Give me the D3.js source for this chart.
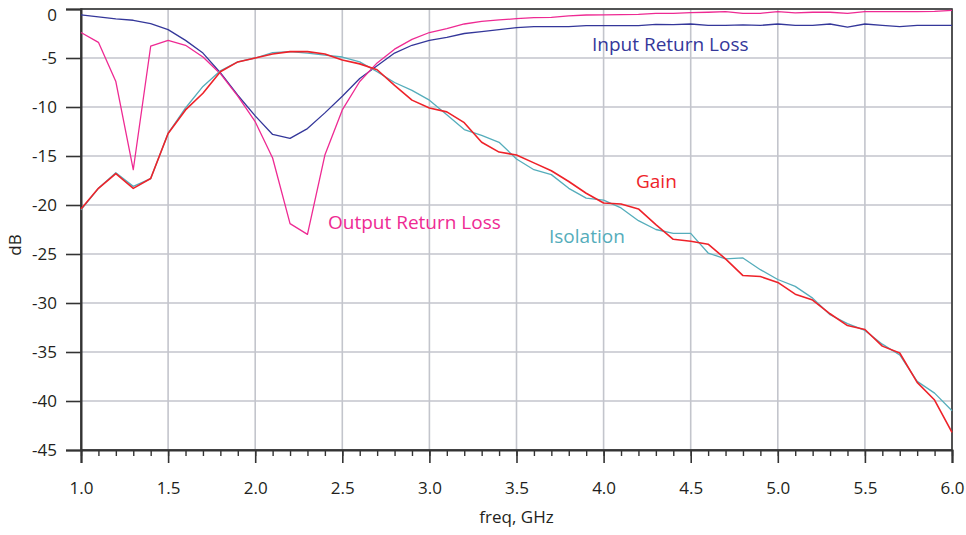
<!DOCTYPE html>
<html>
<head>
<meta charset="utf-8">
<script src="https://cdn.jsdelivr.net/npm/d3@7"></script>
<style>
  body { margin: 0; background: #fff; }
  text { font-family: "Open Sans", "Noto Sans", sans-serif; }
</style>
</head>
<body>
<div id="chart"></div>
<script>
// frequency points, GHz (0.1 GHz steps)
var freq = d3.range(10, 61).map(function(d) { return d / 10; });

var inputRL = [-0.6, -0.8, -1.0, -1.15, -1.5, -2.1, -3.2, -4.5, -6.5, -8.8,
  -10.9, -12.8, -13.2, -12.2, -10.6, -8.9, -7.1, -5.8, -4.5, -3.7,
  -3.2, -2.9, -2.5, -2.3, -2.1, -1.9, -1.8, -1.8, -1.8, -1.7,
  -1.7, -1.7, -1.7, -1.57, -1.6, -1.53, -1.67, -1.67, -1.63, -1.67,
  -1.53, -1.67, -1.67, -1.53, -1.84, -1.53, -1.67, -1.8, -1.67, -1.67, -1.67];

var outputRL = [-2.4, -3.4, -7.4, -16.4, -3.8, -3.2, -3.7, -4.9, -6.6, -8.9,
  -11.5, -15.2, -21.9, -23.0, -14.9, -10.3, -7.4, -5.5, -4.1, -3.1,
  -2.4, -2.0, -1.53, -1.26, -1.12, -0.99, -0.88, -0.85, -0.71, -0.61,
  -0.6, -0.58, -0.54, -0.44, -0.44, -0.37, -0.33, -0.27, -0.44, -0.44,
  -0.27, -0.4, -0.33, -0.33, -0.44, -0.27, -0.27, -0.27, -0.27, -0.24, -0.14];

var gain = [-20.4, -18.3, -16.8, -18.3, -17.3, -12.7, -10.3, -8.6, -6.4, -5.4,
  -5.0, -4.6, -4.35, -4.35, -4.6, -5.2, -5.6, -6.2, -7.8, -9.3,
  -10.1, -10.5, -11.6, -13.6, -14.6, -14.9, -15.7, -16.5, -17.6, -18.8,
  -19.8, -19.9, -20.4, -22.0, -23.5, -23.7, -24.0, -25.5, -27.2, -27.3,
  -27.9, -29.1, -29.7, -31.1, -32.3, -32.7, -34.4, -35.1, -38.1, -39.9, -43.2];

var isolation = [-20.5, -18.3, -16.7, -18.1, -17.3, -12.7, -10.1, -7.9, -6.3, -5.4,
  -5.0, -4.45, -4.35, -4.5, -4.7, -4.9, -5.4, -6.4, -7.5, -8.3,
  -9.3, -10.8, -12.3, -12.9, -13.6, -15.3, -16.4, -16.9, -18.3, -19.3,
  -19.5, -20.3, -21.6, -22.5, -22.9, -22.9, -24.9, -25.5, -25.4, -26.6,
  -27.6, -28.3, -29.5, -31.2, -32.1, -32.8, -34.2, -35.3, -38.0, -39.2, -41.0];

var xTicks = [1.0, 1.5, 2.0, 2.5, 3.0, 3.5, 4.0, 4.5, 5.0, 5.5, 6.0];
var yTicks = [0, -5, -10, -15, -20, -25, -30, -35, -40, -45];

var series = [
  { name: "Input Return Loss", values: inputRL, color: "#34379a", width: 1.3, lx: 592, ly: 51 },
  { name: "Output Return Loss", values: outputRL, color: "#ee2a93", width: 1.3, lx: 328, ly: 229 },
  { name: "Isolation", values: isolation, color: "#55adbb", width: 1.3, lx: 549, ly: 243 },
  { name: "Gain", values: gain, color: "#ee2229", width: 1.6, lx: 636, ly: 188 }
];

var width = 966, height = 535;
var margin = { top: 9, right: 14, bottom: 85, left: 81 };
var plotW = width - margin.left - margin.right,
    plotH = height - margin.top - margin.bottom;

var x = d3.scaleLinear().domain([1, 6]).range([0, plotW]);
var y = d3.scaleLinear().domain([-45, 0]).range([plotH, 0]);

var svg = d3.select("#chart").append("svg")
    .attr("width", width)
    .attr("height", height);

var g = svg.append("g")
    .attr("transform", "translate(" + margin.left + "," + margin.top + ")");

// grid
g.append("g").selectAll("line").data(xTicks)
  .enter().append("line")
    .attr("x1", function(d) { return x(d); })
    .attr("x2", function(d) { return x(d); })
    .attr("y1", 0).attr("y2", plotH)
    .attr("stroke", "#c3c5cc").attr("stroke-width", 1.6);

g.append("g").selectAll("line").data(yTicks)
  .enter().append("line")
    .attr("x1", 0).attr("x2", plotW)
    .attr("y1", function(d) { return y(d); })
    .attr("y2", function(d) { return y(d); })
    .attr("stroke", "#c3c5cc").attr("stroke-width", 1.6);

// frame
g.append("rect")
    .attr("width", plotW).attr("height", plotH)
    .attr("fill", "none").attr("stroke", "#333").attr("stroke-width", 1.6);

// x axis: minor ticks every 0.1, major every 0.5
var xMinor = d3.axisBottom(x).tickValues(freq).tickSize(6).tickFormat("");
var xAxis = d3.axisBottom(x).tickValues(xTicks).tickSize(13).tickPadding(19)
    .tickFormat(d3.format(".1f"));

g.append("g").attr("transform", "translate(0," + plotH + ")").call(xMinor)
  .call(function(s) {
    s.select(".domain").remove();
    s.selectAll("line").attr("stroke", "#333").attr("stroke-width", 1.4);
  });

g.append("g").attr("transform", "translate(0," + plotH + ")").call(xAxis)
  .call(function(s) {
    s.select(".domain").attr("stroke", "#333").attr("stroke-width", 2);
    s.selectAll("line").attr("stroke", "#333").attr("stroke-width", 1.6);
    s.selectAll("text").attr("font-size", 17).attr("fill", "#231f20");
  });

// plain hyphen minus, as in the original
var yAxis = d3.axisLeft(y).tickValues(yTicks).tickSize(15).tickPadding(9)
    .tickFormat(function(d) { return String(d); });
g.append("g").call(yAxis)
  .call(function(s) {
    s.select(".domain").attr("stroke", "#333").attr("stroke-width", 2);
    s.selectAll("line").attr("stroke", "#333").attr("stroke-width", 1.6);
    s.selectAll("text").attr("font-size", 17).attr("fill", "#231f20")
      .attr("dy", function(d) { return d === 0 ? "0.65em" : "0.32em"; });
  });

// axis titles
svg.append("text")
    .attr("x", margin.left + x(3.5)).attr("y", 523)
    .attr("text-anchor", "middle").attr("font-size", 17).attr("fill", "#231f20")
    .text("freq, GHz");

svg.append("text")
    .attr("transform", "translate(21,245) rotate(-90)")
    .attr("text-anchor", "middle").attr("font-size", 17).attr("fill", "#231f20")
    .text("dB");

// curves
var line = d3.line()
    .x(function(d, i) { return x(freq[i]); })
    .y(function(d) { return y(d); });

g.append("g").selectAll("path").data(series)
  .enter().append("path")
    .attr("d", function(d) { return line(d.values); })
    .attr("fill", "none")
    .attr("stroke", function(d) { return d.color; })
    .attr("stroke-width", function(d) { return d.width; })
    .attr("stroke-linejoin", "round");

// curve labels
svg.append("g").selectAll("text").data(series)
  .enter().append("text")
    .attr("x", function(d) { return d.lx; })
    .attr("y", function(d) { return d.ly; })
    .attr("font-size", 19)
    .attr("fill", function(d) { return d.color; })
    .text(function(d) { return d.name; });
</script>
</body>
</html>
